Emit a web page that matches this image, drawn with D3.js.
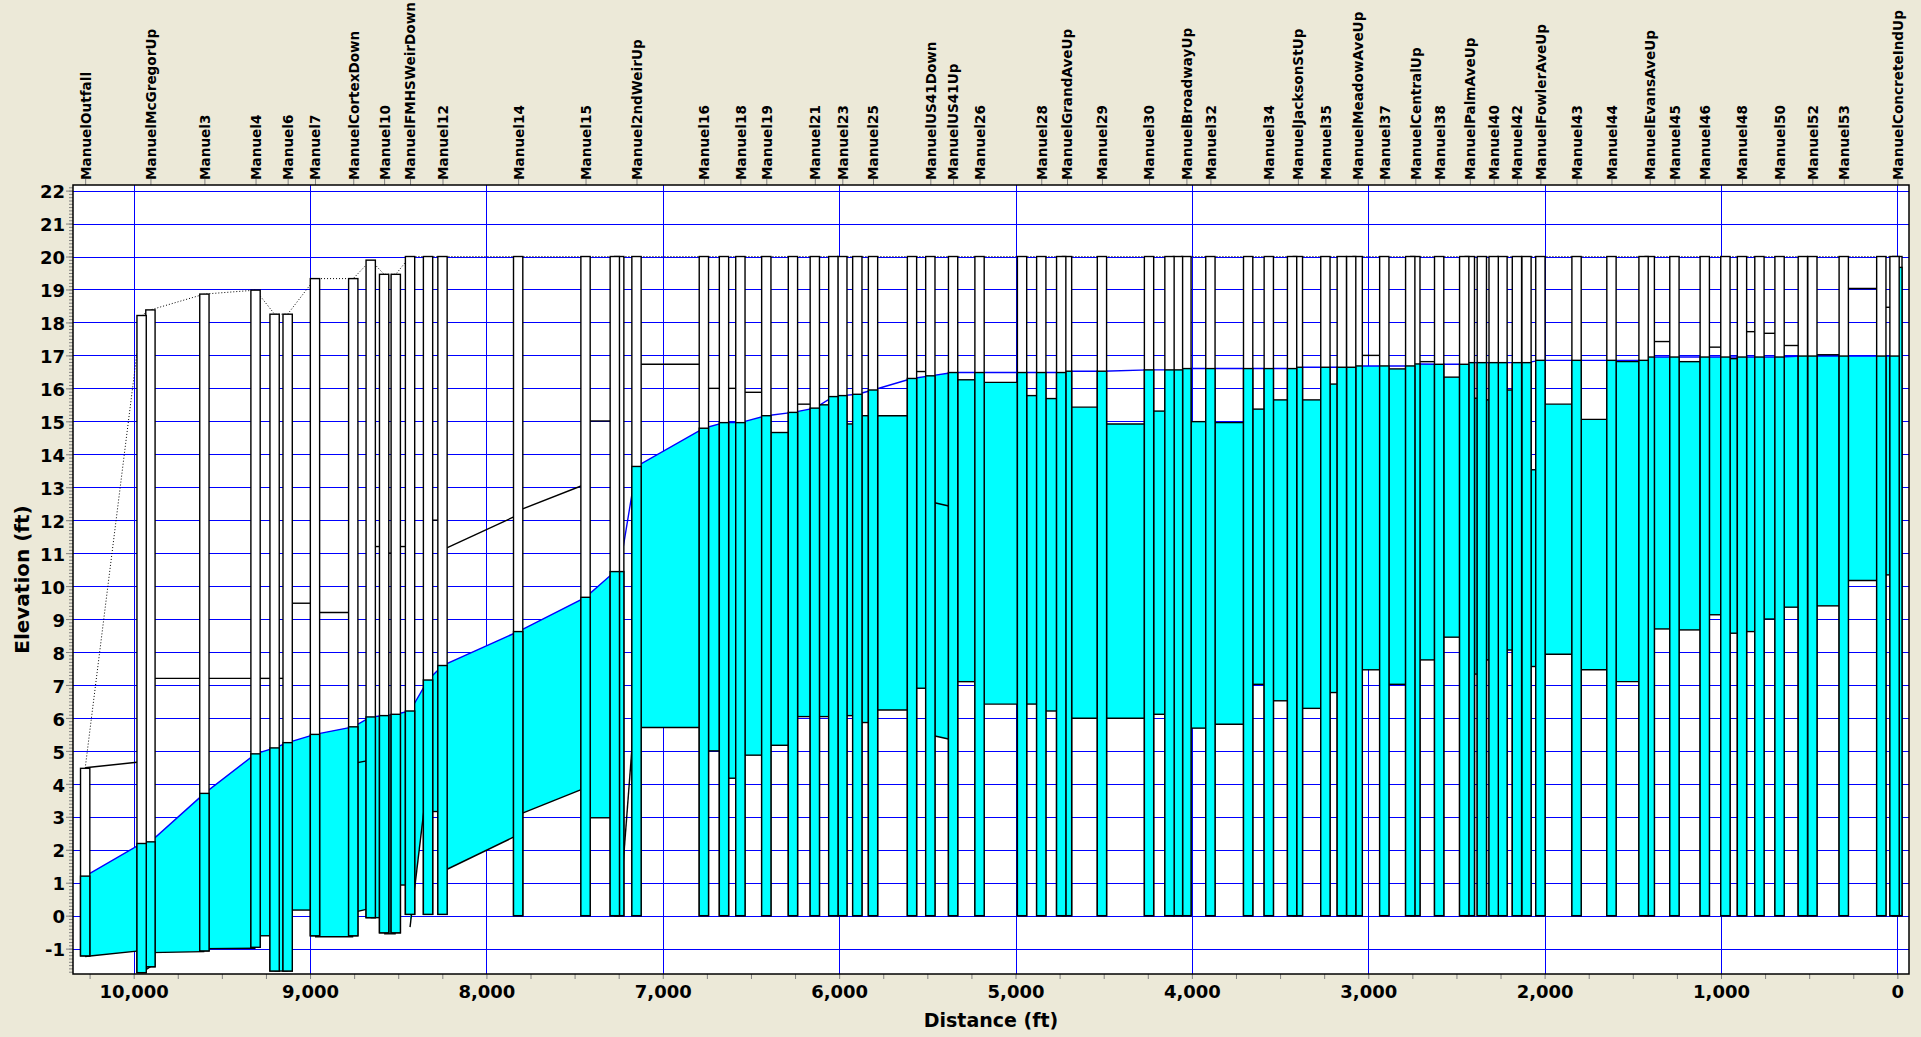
<!DOCTYPE html>
<html>
<head>
<meta charset="utf-8">
<script src="https://cdn.jsdelivr.net/npm/d3@7"></script>
<style>
body { margin: 0; background: #ECE9D8; }
svg { display: block; }
text { font-family: "DejaVu Sans", Verdana, sans-serif; font-weight: bold; fill: #000; }
</style>
</head>
<body>
<div id="profile_plot"></div>
<script>
// Node data, left (downstream) to right (upstream)
var nodeDist = [10275, 9955, 9905, 9599, 9309, 9201, 9127, 8972, 8755, 8656,
  8580, 8514, 8433, 8331, 8249, 7820, 7438, 7272, 7247, 7149,
  6767, 6653, 6560, 6413, 6262, 6138, 6033, 5982, 5897, 5808,
  5587, 5483, 5354, 5204, 4963, 4854, 4741, 4708, 4510, 4243,
  4127, 4079, 4031, 3895, 3681, 3564, 3432, 3399, 3243, 3150,
  3097, 3060, 2909, 2762, 2733, 2598, 2456, 2424, 2356, 2289,
  2239, 2157, 2103, 2024, 1819, 1621, 1439, 1404, 1264, 1092,
  975, 881, 782, 668, 536, 482, 304, 91, 16, 0]

var nodeName = ["ManuelOutfall", "", "ManuelMcGregorUp", "Manuel3", "Manuel4", "", "Manuel6", "Manuel7", "ManuelCortexDown", "",
  "Manuel10", "", "ManuelFMHSWeirDown", "", "Manuel12", "Manuel14", "Manuel15", "", "", "Manuel2ndWeirUp",
  "Manuel16", "", "Manuel18", "Manuel19", "", "Manuel21", "", "Manuel23", "", "Manuel25",
  "", "ManuelUS41Down", "ManuelUS41Up", "Manuel26", "", "Manuel28", "", "ManuelGrandAveUp", "Manuel29", "Manuel30",
  "", "", "ManuelBroadwayUp", "Manuel32", "", "Manuel34", "", "ManuelJacksonStUp", "Manuel35", "",
  "", "ManuelMeadowAveUp", "Manuel37", "", "ManuelCentralUp", "Manuel38", "", "ManuelPalmAveUp", "", "Manuel40",
  "", "Manuel42", "", "ManuelFowlerAveUp", "Manuel43", "Manuel44", "", "ManuelEvansAveUp", "Manuel45", "Manuel46",
  "", "Manuel48", "", "Manuel50", "", "Manuel52", "Manuel53", "", "", "ManuelConcreteIndUp"]

var nodeInvert = [-1.22, -1.73, -1.55, -1.07, -0.96, -1.68, -1.68, -0.61, -0.61, -0.06,
  -0.52, -0.52, 0.04, 0.04, 0.04, 0, 0, 0, 0, 0,
  0, 0, 0, 0, 0, 0, 0, 0, 0, 0,
  0, 0, 0, 0, 0, 0, 0, 0, 0, 0,
  0, 0, 0, 0, 0, 0, 0, 0, 0, 0,
  0, 0, 0, 0, 0, 0, 0, 0, 0, 0,
  0, 0, 0, 0, 0, 0, 0, 0, 0, 0,
  0, 0, 0, 0, 0, 0, 0, 0, 0, 0]

var nodeRim = [4.47, 18.21, 18.38, 18.86, 18.98, 18.25, 18.25, 19.33, 19.33, 19.89,
  19.46, 19.46, 20, 20, 20, 20, 20, 20, 20, 20,
  20, 20, 20, 20, 20, 20, 20, 20, 20, 20,
  20, 20, 20, 20, 20, 20, 20, 20, 20, 20,
  20, 20, 20, 20, 20, 20, 20, 20, 20, 20,
  20, 20, 20, 20, 20, 20, 20, 20, 20, 20,
  20, 20, 20, 20, 20, 20, 20, 20, 20, 20,
  20, 20, 20, 20, 20, 20, 20, 20, 20, 20]

var nodeHead = [1.2, 2.19, 2.24, 3.71, 4.91, 5.09, 5.25, 5.5, 5.73, 6.03,
  6.07, 6.11, 6.21, 7.15, 7.59, 8.62, 9.66, 10.44, 10.44, 13.63,
  14.79, 14.96, 14.96, 15.17, 15.27, 15.4, 15.75, 15.78, 15.82, 15.95,
  16.3, 16.38, 16.48, 16.48, 16.48, 16.48, 16.48, 16.52, 16.52, 16.56,
  16.56, 16.56, 16.6, 16.6, 16.6, 16.6, 16.6, 16.64, 16.64, 16.64,
  16.64, 16.68, 16.68, 16.68, 16.74, 16.73, 16.73, 16.78, 16.78, 16.78,
  16.78, 16.78, 16.78, 16.85, 16.85, 16.85, 16.85, 16.95, 16.95, 16.95,
  16.95, 16.95, 16.95, 16.95, 16.98, 16.98, 16.98, 16.98, 16.98, 19.67]

// Link data: link i joins node i and node i+1 (bottom and top at each end)
var linkBotL = [-1.24, -1.73, -1.12, -1.0, -0.61, -1.68, 0.17, -0.64, 0.1, -0.06,
  -0.55, 0.93, -0.35, 3.16, 1.34, 3.06, 2.97, 0, 0, 5.71,
  5.0, 4.17, 4.87, 5.17, 6.04, 6.04, 6.07, 6.07, 5.86, 6.24,
  6.9, 5.48, 7.1, 6.42, 6.42, 6.21, 6.0, 5.99, 5.99, 6.11,
  6.1, 6.1, 5.69, 5.81, 7.02, 6.52, 6.4, 6.29, 6.77, 7.0,
  7.0, 7.46, 7.02, 7.5, 7.76, 8.45, 7.5, 7.33, 7.76, 8.0,
  8.06, 8.0, 7.56, 7.93, 7.46, 7.1, 8.0, 8.7, 8.67, 9.13,
  8.57, 8.62, 9.0, 9.36, 9.4, 9.4, 10.17, 10.34, 10.3]
var linkBotR = [-1.06, -1.55, -1.09, -0.99, -0.61, -1.68, 0.17, -0.64, 0.22, -0.06,
  -0.55, 0.93, 4.25, 3.16, 2.45, 3.88, 2.97, 0, 6.9, 5.71,
  5.0, 4.17, 4.87, 5.17, 6.04, 6.04, 6.07, 6.07, 5.86, 6.24,
  6.9, 5.33, 7.1, 6.42, 6.42, 6.21, 6.0, 5.99, 5.99, 6.11,
  6.1, 6.1, 5.69, 5.81, 7.02, 6.52, 6.4, 6.29, 6.77, 7.0,
  7.0, 7.46, 7.02, 7.5, 7.76, 8.45, 7.5, 7.33, 7.76, 8.0,
  8.06, 8.0, 7.56, 7.93, 7.46, 7.1, 8.0, 8.7, 8.67, 9.13,
  8.57, 8.62, 9.0, 9.36, 9.4, 9.4, 10.17, 10.34, 10.3]
var linkTopL = [4.49, 4.67, 7.2, 7.2, 7.2, 7.2, 9.48, 9.2, 4.62, 11.2,
  11.0, 11.2, null, 12.0, 11.1, 12.29, 15.01, null, null, 16.73,
  16.0, 16.0, 15.88, 14.66, 15.52, 15.5, 15.5, 14.92, 15.17, 15.17,
  16.51, 12.56, 16.26, 16.18, 15.78, 15.69, 15.5, 15.43, 14.92, 15.31,
  15.3, 15.3, 14.99, 14.96, 15.37, 15.65, 15.65, 15.65, 16.13, 16.5,
  16.5, 17.0, 16.59, 16.8, 16.81, 16.34, 16.3, 15.7, 15.65, 16.0,
  15.95, 15.5, 13.53, 15.52, 15.06, 16.81, 17.0, 17.42, 16.81, 17.25,
  16.9, 17.72, 17.67, 17.3, 17.0, 17.02, 19.03, 18.46, 18.5]
var linkTopR = [4.67, 4.67, 7.2, 7.2, 7.2, 7.2, 9.48, 9.2, 4.72, 11.2,
  11.0, 11.2, null, 12.0, 12.16, 13.09, 15.01, null, null, 16.73,
  16.0, 16.0, 15.88, 14.66, 15.52, 15.5, 15.5, 14.92, 15.17, 15.17,
  16.51, 12.4, 16.26, 16.18, 15.78, 15.69, 15.5, 15.43, 14.92, 15.31,
  15.3, 15.3, 14.99, 14.96, 15.37, 15.65, 15.65, 15.65, 16.13, 16.5,
  16.5, 17.0, 16.59, 16.8, 16.81, 16.34, 16.3, 15.7, 15.65, 16.0,
  15.95, 15.5, 13.53, 15.52, 15.06, 16.81, 17.0, 17.42, 16.81, 17.25,
  16.9, 17.72, 17.67, 17.3, 17.0, 17.02, 19.03, 18.46, 18.5]
// water fill: "c" up to crown, "h" up to the HGL, "n" none (weir)
var linkFill = ["c", "c", "c", "c", "c", "c", "c", "c", "h", "c",
  "c", "c", "h", "c", "c", "c", "c", "c", "n", "c",
  "c", "c", "c", "c", "c", "c", "c", "c", "c", "c",
  "c", "h", "c", "c", "c", "c", "c", "c", "c", "c",
  "c", "c", "c", "c", "c", "c", "c", "c", "c", "c",
  "c", "c", "c", "c", "c", "c", "c", "c", "c", "c",
  "c", "c", "c", "c", "c", "c", "c", "c", "c", "c",
  "c", "c", "c", "c", "c", "c", "c", "c", "c"]

var xTickValues = d3.range(0, 10344, 250)
var xLabelValues = d3.range(0, 10001, 1000)
var yLabelValues = d3.range(-1, 23)

// Layout
var width = 1921
var height = 1037
var plot = {left: 73, right: 1909, top: 185, bottom: 974}
var node_w = 9.3
var water = "#00FFFF"
var grid_color = "#0000FF"

var x = d3.scaleLinear().domain([10344, -66]).range([plot.left, plot.right])
var y = d3.scaleLinear().domain([-1.77, 22.17]).range([plot.bottom, plot.top])

var svg = d3.select("#profile_plot")
    .append("svg")
    .attr("width", width)
    .attr("height", height)

svg.append("defs").append("clipPath").attr("id", "plot_clip")
    .append("rect")
    .attr("x", plot.left).attr("y", plot.top)
    .attr("width", plot.right - plot.left).attr("height", plot.bottom - plot.top)

svg.append("rect")
    .attr("x", plot.left).attr("y", plot.top)
    .attr("width", plot.right - plot.left).attr("height", plot.bottom - plot.top)
    .attr("fill", "white")

var inner = svg.append("g").attr("clip-path", "url(#plot_clip)")

// grid
inner.selectAll(".hgrid").data(yLabelValues).enter().append("line")
    .attr("x1", plot.left).attr("x2", plot.right)
    .attr("y1", function(d){ return Math.round(y(d)) + 0.5 })
    .attr("y2", function(d){ return Math.round(y(d)) + 0.5 })
    .attr("stroke", grid_color).attr("stroke-width", 1)
inner.selectAll(".vgrid").data(xLabelValues).enter().append("line")
    .attr("y1", plot.top).attr("y2", plot.bottom)
    .attr("x1", function(d){ return Math.round(x(d)) + 0.5 })
    .attr("x2", function(d){ return Math.round(x(d)) + 0.5 })
    .attr("stroke", grid_color).attr("stroke-width", 1)

// link water fill, sampled between node centres
var links = d3.range(nodeDist.length - 1)
function lerp(a, b, t){ return a + (b - a) * t }
function fill_samples(i){
    var pts = []
    for (var k = 0; k <= 30; k++){
        var t = k / 30
        var bot = lerp(linkBotL[i], linkBotR[i], t)
        var top = lerp(nodeHead[i], nodeHead[i+1], t)
        if (linkFill[i] == "c" && linkTopL[i] !== null){
            top = Math.min(top, lerp(linkTopL[i], linkTopR[i], t))
        }
        pts.push({d: lerp(nodeDist[i], nodeDist[i+1], t), b: bot, w: Math.max(top, bot)})
    }
    return pts
}
var water_area = d3.area()
    .x(function(p){ return x(p.d) })
    .y0(function(p){ return y(p.b) })
    .y1(function(p){ return y(p.w) })

inner.selectAll(".linkfill").data(links.filter(function(i){ return linkFill[i] != "n" }))
    .enter().append("path")
    .attr("d", function(i){ return water_area(fill_samples(i)) })
    .attr("fill", water)
    .attr("stroke", "none")

// hydraulic grade line
var hgl = d3.line().x(function(d, i){ return x(nodeDist[i]) }).y(function(d){ return y(d) })
inner.append("path")
    .attr("d", hgl(nodeHead))
    .attr("fill", "none").attr("stroke", "#0000FF").attr("stroke-width", 1.4)

// conduit bottom / top lines
inner.selectAll(".linkbot").data(links).enter().append("line")
    .attr("x1", function(i){ return x(nodeDist[i]) })
    .attr("x2", function(i){ return x(nodeDist[i+1]) })
    .attr("y1", function(i){ return y(linkBotL[i]) })
    .attr("y2", function(i){ return y(linkBotR[i]) })
    .attr("stroke", "#000").attr("stroke-width", 1.4)
inner.selectAll(".linktop").data(links.filter(function(i){ return linkTopL[i] !== null }))
    .enter().append("line")
    .attr("x1", function(i){ return x(nodeDist[i]) })
    .attr("x2", function(i){ return x(nodeDist[i+1]) })
    .attr("y1", function(i){ return y(linkTopL[i]) })
    .attr("y2", function(i){ return y(linkTopR[i]) })
    .attr("stroke", "#000").attr("stroke-width", 1.4)

// ground line (dotted)
var ground = d3.line().x(function(d, i){ return x(nodeDist[i]) }).y(function(d){ return y(d) })
inner.append("path")
    .attr("d", ground(nodeRim))
    .attr("fill", "none").attr("stroke", "#000").attr("stroke-width", 1)
    .attr("stroke-dasharray", "1,2")

// nodes, drawn right to left so the downstream node sits on top
var order = d3.range(nodeDist.length).reverse()
var node_g = inner.selectAll(".node").data(order).enter().append("g")
node_g.append("rect")
    .attr("x", function(i){ return x(nodeDist[i]) - node_w / 2 })
    .attr("width", node_w)
    .attr("y", function(i){ return y(nodeRim[i]) })
    .attr("height", function(i){ return y(nodeInvert[i]) - y(nodeRim[i]) })
    .attr("fill", "white").attr("stroke", "#000").attr("stroke-width", 1.4)
node_g.append("rect")
    .attr("x", function(i){ return x(nodeDist[i]) - node_w / 2 })
    .attr("width", node_w)
    .attr("y", function(i){ return y(Math.min(nodeHead[i], nodeRim[i])) })
    .attr("height", function(i){ return y(nodeInvert[i]) - y(Math.min(nodeHead[i], nodeRim[i])) })
    .attr("fill", water).attr("stroke", "#000").attr("stroke-width", 1.4)

// axes
var x_axis = svg.append("g")
    .attr("transform", "translate(0," + plot.bottom + ")")
    .call(d3.axisBottom(x).tickValues(xTickValues).tickSize(5).tickPadding(6)
        .tickFormat(function(d){ return d % 1000 == 0 ? d3.format(",")(d) : "" }))
x_axis.select(".domain").remove()
x_axis.selectAll("line").attr("stroke", "#808080")
x_axis.attr("font-family", null).attr("font-size", null)
x_axis.selectAll("text").attr("font-size", 18)

var y_minor = svg.append("g")
    .attr("transform", "translate(" + plot.left + ",0)")
    .call(d3.axisLeft(y).tickValues(d3.range(-17, 222).map(function(v){ return v / 10 })).tickSize(4).tickFormat(""))
y_minor.select(".domain").remove()
y_minor.selectAll("line").attr("stroke", "#808080")

var y_axis = svg.append("g")
    .attr("transform", "translate(" + plot.left + ",0)")
    .call(d3.axisLeft(y).tickValues(yLabelValues).tickSize(7).tickPadding(1)
        .tickFormat(function(d){ return String(d) }))
y_axis.select(".domain").remove()
y_axis.selectAll("line").attr("stroke", "#808080")
y_axis.attr("font-family", null).attr("font-size", null)
y_axis.selectAll("text").attr("font-size", 18).attr("dy", "0.4em")

// node labels along the top
var labelled = d3.range(nodeDist.length).filter(function(i){ return nodeName[i] != "" })
var top_axis = svg.append("g")
    .attr("transform", "translate(0," + plot.top + ")")
    .call(d3.axisTop(x).tickValues(labelled.map(function(i){ return nodeDist[i] }))
        .tickSize(6)
        .tickFormat(function(d, k){ return nodeName[labelled[k]] }))
top_axis.select(".domain").remove()
top_axis.selectAll("line").attr("stroke", "#808080")
top_axis.attr("font-family", null).attr("font-size", null)
top_axis.selectAll("text")
    .attr("font-size", 13.6)
    .attr("transform", "rotate(-90)")
    .attr("x", 5).attr("y", 0).attr("dy", "0.36em")
    .style("text-anchor", "start")

// frame
svg.append("rect")
    .attr("x", plot.left).attr("y", plot.top)
    .attr("width", plot.right - plot.left).attr("height", plot.bottom - plot.top)
    .attr("fill", "none").attr("stroke", "#000").attr("stroke-width", 1.5)

// titles
svg.append("text")
    .attr("x", (plot.left + plot.right) / 2).attr("y", 1027)
    .attr("text-anchor", "middle").attr("font-size", 19)
    .text("Distance (ft)")
svg.append("text")
    .attr("transform", "translate(29," + (plot.top + plot.bottom) / 2 + ") rotate(-90)")
    .attr("text-anchor", "middle").attr("font-size", 20)
    .text("Elevation (ft)")
</script>
</body>
</html>
